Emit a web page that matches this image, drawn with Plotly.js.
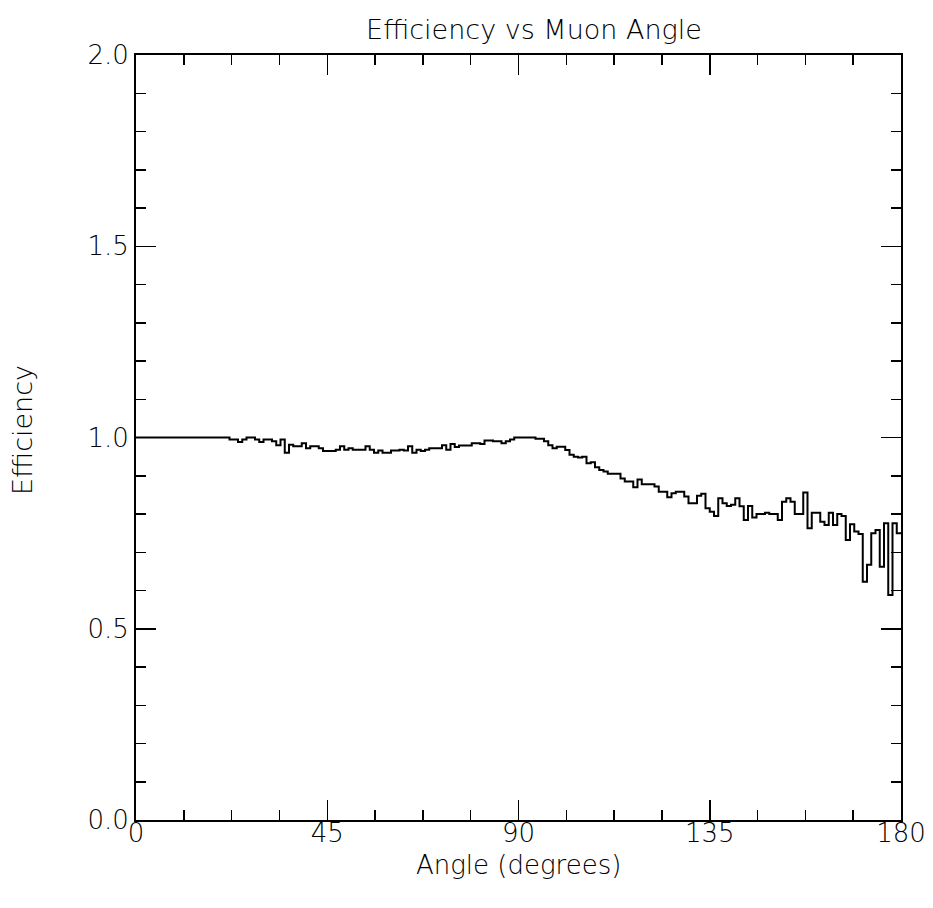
<!DOCTYPE html>
<html>
<head>
<meta charset="utf-8">
<script src="https://cdn.plot.ly/plotly-3.0.1.min.js"></script>
<style>html,body{margin:0;padding:0;background:#fff;}#chart{width:933px;height:908px;}</style>
</head>
<body>
<div id="chart"></div>
<script>
// Bin width (degrees) and efficiency per 1-degree bin, 0..179
const binWidth = 1;
const efficiency = [
  // 0-19
  1.0,1.0,1.0,1.0,1.0,1.0,1.0,1.0,1.0,1.0,
  1.0,1.0,1.0,1.0,1.0,1.0,1.0,1.0,1.0,1.0,
  // 20-39
  1.0,1.0,0.995,0.995,0.988,0.995,1.0,1.0,0.995,0.988,
  0.995,0.995,0.99,0.98,0.995,0.96,0.981,0.977,0.977,0.985,
  // 40-59
  0.972,0.977,0.977,0.972,0.965,0.965,0.965,0.968,0.977,0.968,
  0.972,0.968,0.968,0.968,0.977,0.968,0.96,0.966,0.96,0.96,
  // 60-79
  0.966,0.966,0.968,0.966,0.977,0.96,0.968,0.965,0.968,0.972,
  0.972,0.972,0.98,0.968,0.983,0.975,0.979,0.979,0.979,0.985,
  // 80-99
  0.985,0.983,0.992,0.992,0.99,0.99,0.985,0.99,0.995,1.0,
  1.0,1.0,1.0,1.0,0.997,0.997,0.99,0.98,0.972,0.976,
  // 100-119
  0.976,0.967,0.955,0.95,0.948,0.95,0.933,0.935,0.922,0.915,
  0.911,0.905,0.905,0.905,0.893,0.885,0.885,0.870,0.89,0.878,
  // 120-139
  0.878,0.878,0.872,0.858,0.858,0.844,0.854,0.858,0.858,0.846,
  0.828,0.828,0.848,0.853,0.815,0.806,0.795,0.841,0.828,0.821,
  // 140-159
  0.824,0.841,0.82,0.784,0.821,0.791,0.80,0.80,0.803,0.80,
  0.80,0.784,0.832,0.841,0.832,0.80,0.80,0.856,0.763,0.803,
  // 160-179
  0.803,0.78,0.771,0.803,0.771,0.80,0.795,0.732,0.773,0.754,
  0.748,0.623,0.667,0.75,0.758,0.662,0.776,0.588,0.776,0.75
];
const xTickVals = [0,45,90,135,180];
const xTickText = ['0','45','90','135','180'];
const yTickVals = [0.0,0.5,1.0,1.5,2.0];
const yTickText = ['0.0','0.5','1.0','1.5','2.0'];
const titleText = 'Efficiency vs Muon Angle';
const xTitle = 'Angle (degrees)';
const yTitle = 'Efficiency';

// step histogram: left bin edges plus closing edge
const xs = efficiency.map((_, i) => i * binWidth);
const ys = efficiency.slice();
xs.push(efficiency.length * binWidth);
ys.push(efficiency[efficiency.length - 1]);

const fam = 'DejaVu Sans, sans-serif';
const tickFont = {family: fam, size: 26, color: '#000', weight: 200};
const textFont = {family: fam, size: 27, color: '#000', weight: 200};
const xTitleFont = {family: fam, size: 26, color: '#000', weight: 200};

const trace = {
  x: xs, y: ys, type: 'scatter', mode: 'lines',
  line: {shape: 'hv', color: '#000', width: 2},
  hoverinfo: 'skip', showlegend: false
};

const axisCommon = {
  showgrid: false, zeroline: false, showline: true, linecolor: '#000', linewidth: 2,
  mirror: 'allticks', ticks: 'inside', ticklen: 20, tickwidth: 1.5, tickcolor: '#000',
  tickfont: tickFont
};

const plotW = 933 - 136 - 32;
const plotH = 908 - 55 - 88;

const layout = {
  width: 933, height: 908,
  margin: {l: 136, r: 32, t: 55, b: 88},
  paper_bgcolor: '#fff', plot_bgcolor: '#fff',
  font: textFont,
  title: {text: titleText, font: textFont,
          x: 534/933, xref: 'container', xanchor: 'center', y: 1 - 30/908, yref: 'container', yanchor: 'middle'},
  xaxis: Object.assign({}, axisCommon, {
    range: [0, 180], tickmode: 'array', tickvals: xTickVals, ticktext: xTickText,
    ticklabelstandoff: -11,
    minor: {dtick: 11.25, tick0: 0, ticks: 'inside', ticklen: 10, tickwidth: 1.5, tickcolor: '#000', showgrid: false}
  }),
  yaxis: Object.assign({}, axisCommon, {
    range: [0, 2], tickmode: 'array', tickvals: yTickVals, ticktext: yTickText,
    minor: {dtick: 0.1, tick0: 0, ticks: 'inside', ticklen: 10, tickwidth: 1.5, tickcolor: '#000', showgrid: false}
  }),
  annotations: [
    {text: xTitle, xref: 'paper', yref: 'paper', x: (518 - 136) / plotW, y: -(865 - 820) / plotH,
     xanchor: 'center', yanchor: 'middle', showarrow: false, font: xTitleFont, borderpad: 0},
    {text: yTitle, xref: 'paper', yref: 'paper', x: -(136 - 22) / plotW, y: (820 - 430) / plotH,
     xanchor: 'center', yanchor: 'middle', textangle: -90, showarrow: false, font: textFont, borderpad: 0}
  ]
};

Plotly.newPlot('chart', [trace], layout, {staticPlot: true, displayModeBar: false});
</script>
</body>
</html>
